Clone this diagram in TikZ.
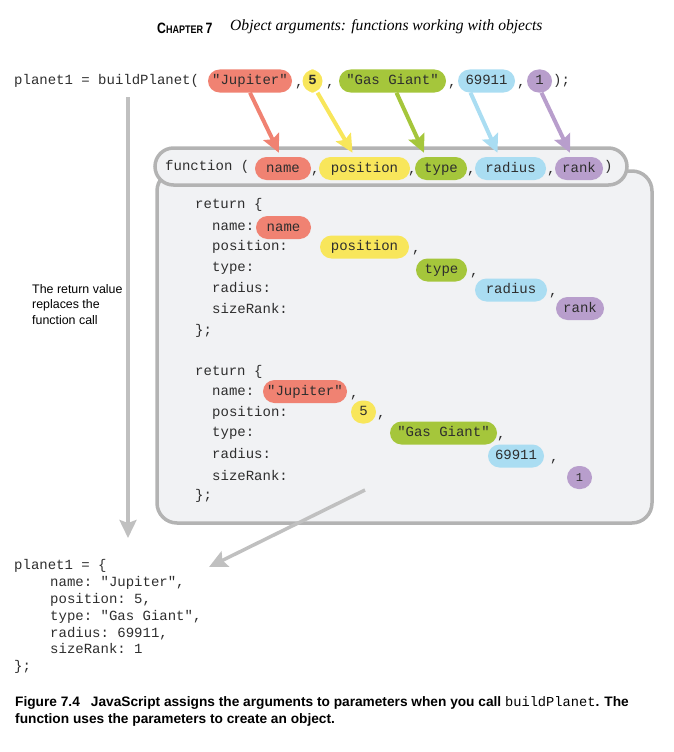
\documentclass[tikz,border=0pt]{standalone}
\usepackage{fontspec}
\setmainfont{Liberation Serif}
\setsansfont{Liberation Sans}
\setmonofont{Liberation Mono}
\newfontfamily\chapfont[FakeStretch=0.82]{Liberation Sans}
\usetikzlibrary{arrows.meta}
\definecolor{cred}{HTML}{F08272}
\definecolor{cyel}{HTML}{F8E65B}
\definecolor{cgrn}{HTML}{A5C63B}
\definecolor{cblu}{HTML}{AADDF2}
\definecolor{cpur}{HTML}{B89ECC}
\definecolor{boxfill}{HTML}{F1F2F4}
\definecolor{boxline}{HTML}{B3B3B3}
\definecolor{arrgray}{HTML}{C0C0C0}
\definecolor{codegray}{HTML}{2E2E2E}
\begin{document}
\begin{tikzpicture}[x=1pt,y=-1pt,
  code/.style={font=\fontsize{14}{14}\selectfont\ttfamily, text=codegray, inner sep=0pt, anchor=west, text height=10pt, text depth=3pt},
  pill/.style={inner sep=0pt, minimum height=23pt, rounded corners=11.5pt, font=\fontsize{14}{14}\selectfont\ttfamily, text=codegray, text height=10pt, text depth=3pt},
  carrow/.style={line width=4pt, -{Stealth[length=18pt,width=17pt,inset=3pt]}},
  garrow/.style={line width=3.5pt, draw=arrgray, -{Stealth[length=18pt,width=17pt,inset=3pt]}},
  note/.style={font=\fontsize{12.4}{15.5}\selectfont\sffamily, align=left, inner sep=0pt, anchor=north west},
  capstyle/.style={anchor=west, inner sep=0pt, font=\sffamily\bfseries\fontsize{13.7}{13.7}\selectfont},
]
\useasboundingbox (0,0) rectangle (674,752);

% header
\node[anchor=west, inner sep=0pt] (chap) at (157,28)
  {\chapfont\bfseries\fontsize{15}{15}\selectfont C\fontsize{11}{15}\selectfont HAPTER \fontsize{15}{15}\selectfont 7};
\node[anchor=west, inner sep=0pt, font=\fontsize{15.6}{15.6}\selectfont\itshape] (title) at (230,27)
  {Object arguments: functions working with objects};

% call line
\node[code] (call) at (14,81) {planet1 = buildPlanet(};
\node[pill, fill=cred, minimum width=84pt] (a1) at (250,81) {"Jupiter"};
\node[code] (c1) at (295,83) {,};
\node[pill, fill=cyel, minimum width=20pt, font=\fontsize{14}{14}\selectfont\ttfamily\bfseries] (a2) at (312.5,81) {5};
\node[code] (c2) at (326,83) {,};
\node[pill, fill=cgrn, minimum width=107pt] (a3) at (392.5,81) {"Gas Giant"};
\node[code] (c3) at (448,83) {,};
\node[pill, fill=cblu, minimum width=57pt] (a4) at (486.5,81) {69911};
\node[code] (c4) at (517,83) {,};
\node[pill, fill=cpur, minimum width=25pt] (a5) at (539.5,81) {1};
\node[code] (c5) at (553,81) {);};

% vertical gray arrow
\coordinate (vs) at (128,97);
\coordinate (ve) at (128,538);
\draw[garrow] (vs) -- (ve);

% note
\node[note] (lbl) at (32,284) {The return value\\replaces the\\function call};

% function box
\draw[draw=boxline, fill=boxfill, line width=3.5pt, rounded corners=20pt] (157,171) rectangle (652,523);
\node[draw=boxline, fill=boxfill, line width=3.5pt, rounded corners=18.5pt, minimum width=472pt, minimum height=37pt, inner sep=0pt] (hdr) at (391,166.5) {};

\node[code] (fn) at (165,167) {function (};
\node[pill, fill=cred, minimum width=56pt] (p1) at (283,168.5) {name};
\node[code] (d1) at (311,170) {,};
\node[pill, fill=cyel, minimum width=91pt] (p2) at (364.5,168.5) {position};
\node[code] (d2) at (408,170) {,};
\node[pill, fill=cgrn, minimum width=52pt] (p3) at (441,168.5) {type};
\node[code] (d3) at (467,170) {,};
\node[pill, fill=cblu, minimum width=71pt] (p4) at (510.5,168.5) {radius};
\node[code] (d4) at (547,170) {,};
\node[pill, fill=cpur, minimum width=48pt] (p5) at (579,168.5) {rank};
\node[code] (d5) at (604,167) {)};

% colored arrows
\draw[carrow, draw=cred] (a1.south) -- ([xshift=-4pt,yshift=4pt]p1.north);
\draw[carrow, draw=cyel] ([xshift=5pt]a2.south) -- ([xshift=-12pt,yshift=4pt]p2.north);
\draw[carrow, draw=cgrn] ([xshift=4pt]a3.south) -- ([xshift=-17pt,yshift=4pt]p3.north);
\draw[carrow, draw=cblu] ([xshift=-16pt]a4.south) -- ([xshift=-13pt,yshift=4pt]p4.north);
\draw[carrow, draw=cpur] ([xshift=2pt]a5.south) -- ([xshift=-9pt,yshift=4pt]p5.north);

% first return block
\node[code] (r1) at (195,205) {return \{};
\node[code] (r1a) at (212,227) {name:};
\node[pill, fill=cred, minimum width=55pt] (q1) at (283.5,227.5) {name};
\node[code] (r1b) at (212,247) {position:};
\node[pill, fill=cyel, minimum width=89pt] (q2) at (364.5,247) {position};
\node[code] (e2) at (412,249) {,};
\node[code] (r1c) at (212,268) {type:};
\node[pill, fill=cgrn, minimum width=51pt] (q3) at (441.5,270) {type};
\node[code] (e3) at (470,272) {,};
\node[code] (r1d) at (212,289) {radius:};
\node[pill, fill=cblu, minimum width=72pt] (q4) at (511,290) {radius};
\node[code] (e4) at (549,292) {,};
\node[code] (r1e) at (212,310) {sizeRank:};
\node[pill, fill=cpur, minimum width=48pt] (q5) at (580,308.5) {rank};
\node[code] (r1f) at (195,331) {\};};

% second return block
\node[code] (r2) at (195,372) {return \{};
\node[code] (r2a) at (212,392) {name:};
\node[pill, fill=cred, minimum width=84pt] (s1) at (305,391.5) {"Jupiter"};
\node[code] (f1) at (350,394) {,};
\node[code] (r2b) at (212,413) {position:};
\node[pill, fill=cyel, minimum width=25pt] (s2) at (363.5,412) {5};
\node[code] (f2) at (377,414) {,};
\node[code] (r2c) at (212,433) {type:};
\node[pill, fill=cgrn, minimum width=107pt] (s3) at (443.5,433) {"Gas Giant"};
\node[code] (f3) at (497,435) {,};
\node[code] (r2d) at (212,455) {radius:};
\node[pill, fill=cblu, minimum width=56pt] (s4) at (516,456) {69911};
\node[code] (f4) at (550,458) {,};
\node[code] (r2e) at (212,477) {sizeRank:};
\node[pill, fill=cpur, minimum width=25pt, font=\fontsize{12}{12}\selectfont\ttfamily] (s5) at (579.5,477.5) {1};
\node[code] (r2f) at (195,496) {\};};

% diagonal gray arrow
\coordinate (ds) at (365,490);
\coordinate (de) at (209,567);
\draw[garrow] (ds) -- (de);

% result object
\node[code] (o0) at (14,566) {planet1 = \{};
\node[code] (o1) at (50,583) {name: "Jupiter",};
\node[code] (o2) at (50,600) {position: 5,};
\node[code] (o3) at (50,617) {type: "Gas Giant",};
\node[code] (o4) at (50,634) {radius: 69911,};
\node[code] (o5) at (50,650) {sizeRank: 1};
\node[code] (o6) at (14,667) {\};};

% caption
\node[capstyle] (cap1) at (15,703)
  {Figure 7.4\hspace{11pt}JavaScript assigns the arguments to parameters when you call {\mdseries\ttfamily\fontsize{13.7}{13.7}\selectfont buildPlanet}. The};
\node[capstyle] (cap2) at (15,720)
  {function uses the parameters to create an object.};
\end{tikzpicture}
\end{document}
